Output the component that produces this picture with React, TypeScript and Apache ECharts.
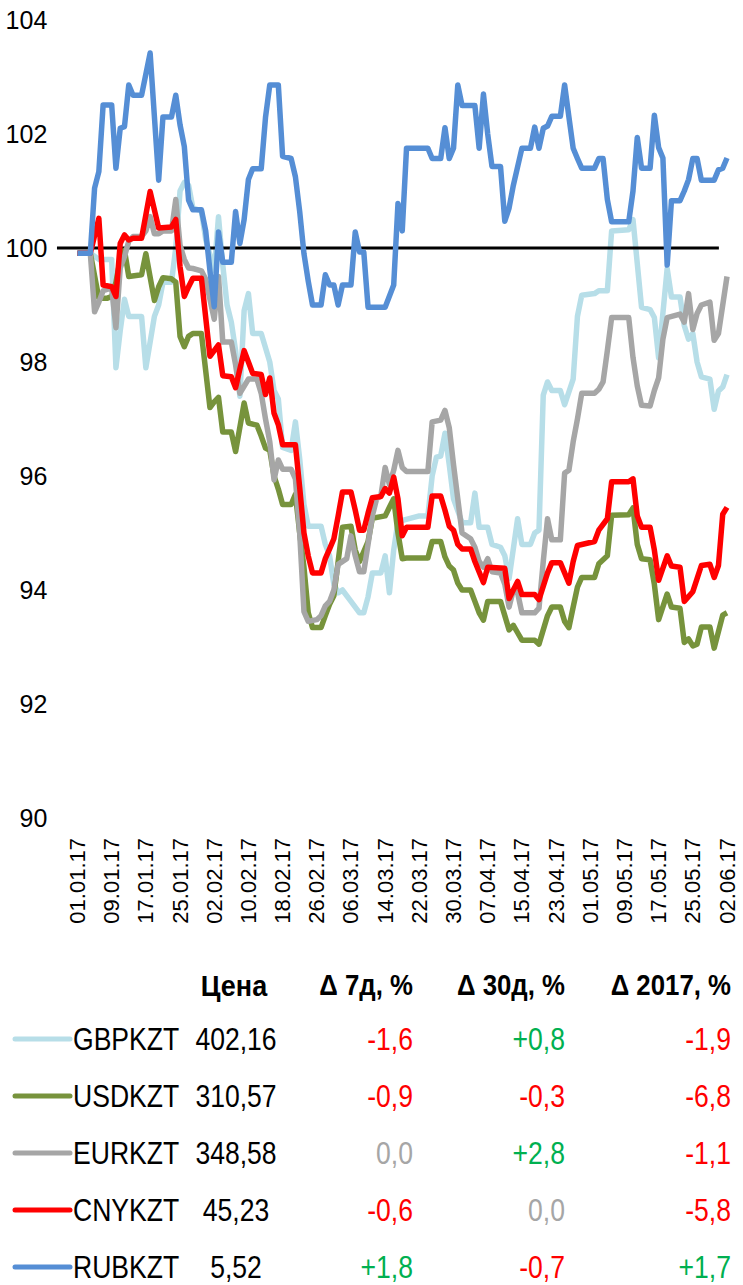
import React, { useEffect, useRef } from "react";
import * as echarts from "echarts";

// x = day index since 01.01.17
const TICK_LABELS = ["01.01.17","09.01.17","17.01.17","25.01.17","02.02.17","10.02.17","18.02.17","26.02.17","06.03.17","14.03.17","22.03.17","30.03.17","07.04.17","15.04.17","23.04.17","01.05.17","09.05.17","17.05.17","25.05.17","02.06.17"];

const BASELINE = 100;
const BASELINE_RANGE = [-4.8, 150.1];

const GBPKZT = [[0,99.91],[3,99.91],[5,99.8],[8,99.8],[9,97.9],[10,98.55],[11,99.1],[12,98.8],[15,98.8],[16,97.9],[18,98.8],[19,99.0],[20,99.4],[22,99.4],[23,100.0],[24,101.0],[25,101.15],[26,101.1],[27,100.7],[29,100.65],[30,100.15],[32,99.6],[33,100.55],[34,99.7],[35,99.0],[36,98.7],[37,98.2],[38,97.4],[39,98.9],[40,99.2],[41,98.5],[43,98.5],[45,98.0],[46,97.5],[47,97.35],[48,96.5],[50,96.45],[51,96.95],[52,96.3],[53,95.5],[54,95.12],[57,95.12],[58,94.8],[59,94.6],[60,94.1],[61,93.95],[62,94.0],[64,93.8],[66,93.6],[67,93.6],[68,93.88],[69,94.3],[71,94.3],[72,94.6],[73,93.95],[74,94.7],[75,95.2],[80,95.3],[82,95.3],[83,96.0],[84,96.33],[85,96.35],[86,96.75],[87,96.2],[88,95.6],[90,95.18],[92,95.18],[93,95.7],[94,95.1],[96,95.1],[97,94.8],[99,94.75],[100,94.6],[101,94.2],[103,95.25],[104,94.8],[106,94.8],[107,95.0],[108,95.05],[109,97.42],[110,97.65],[111,97.5],[113,97.5],[114,97.25],[116,97.7],[117,98.8],[118,99.17],[121,99.2],[122,99.25],[124,99.25],[125,100.3],[129,100.32],[130,100.5],[132,98.96],[134,98.92],[135,98.78],[136,98.07],[138,99.64],[139,99.14],[141,99.14],[142,98.64],[143,98.4],[144,98.5],[145,98.0],[146,97.74],[148,97.7],[149,97.17],[150,97.49],[151,97.56],[152,97.78]];

const USDKZT = [[0,99.91],[3,99.91],[5,99.12],[7,99.12],[8,99.15],[9,99.4],[10,99.8],[11,99.96],[12,99.5],[15,99.53],[16,99.9],[18,99.08],[19,99.32],[20,99.48],[22,99.46],[23,99.4],[24,98.45],[25,98.27],[26,98.45],[27,98.5],[29,98.5],[31,97.2],[32,97.3],[33,97.38],[34,96.77],[36,96.77],[37,96.43],[39,97.28],[40,96.93],[42,96.89],[43,96.7],[44,96.49],[45,96.45],[46,96.0],[47,95.77],[48,95.5],[50,95.5],[51,95.68],[52,95.0],[53,94.4],[54,93.6],[55,93.34],[57,93.34],[58,93.55],[59,93.75],[60,93.9],[61,94.5],[62,95.1],[64,95.12],[65,94.7],[66,94.5],[68,94.85],[69,95.26],[72,95.3],[73,95.45],[74,95.6],[75,95.0],[76,94.55],[77,94.56],[82,94.56],[83,94.85],[85,94.85],[86,94.58],[87,94.42],[88,94.35],[89,94.12],[90,94.0],[92,94.0],[93,93.8],[94,93.6],[95,93.47],[96,93.8],[99,93.8],[100,93.55],[101,93.3],[102,93.38],[103,93.25],[104,93.12],[107,93.12],[108,93.05],[110,93.55],[111,93.7],[113,93.7],[114,93.45],[115,93.34],[116,93.7],[117,94.05],[118,94.22],[121,94.22],[122,94.46],[124,94.6],[125,95.31],[129,95.32],[130,95.44],[131,94.8],[132,94.55],[134,94.53],[135,94.1],[136,93.48],[138,93.93],[139,93.7],[141,93.68],[142,93.08],[143,93.14],[144,93.02],[145,93.05],[146,93.35],[148,93.35],[149,92.98],[151,93.56],[152,93.6]];

const EURKZT = [[0,99.91],[3,99.91],[4,98.88],[5,99.05],[6,99.25],[8,99.3],[9,98.6],[10,99.65],[11,99.85],[12,100.12],[13,100.2],[15,100.2],[16,100.3],[17,100.55],[18,100.25],[19,100.25],[20,100.3],[22,100.3],[23,100.85],[24,100.05],[25,99.8],[26,99.65],[27,99.64],[29,99.6],[30,99.45],[31,99.1],[32,98.75],[33,99.5],[34,98.35],[36,98.35],[37,97.95],[38,97.45],[40,97.7],[42,97.7],[43,97.45],[44,97.0],[45,96.6],[46,95.93],[47,96.28],[48,96.12],[50,96.12],[51,95.95],[52,95.0],[53,93.62],[54,93.45],[56,93.48],[57,93.55],[58,93.72],[59,93.8],[60,94.0],[61,94.45],[63,94.55],[64,94.95],[65,94.6],[66,94.32],[67,94.32],[68,94.8],[69,95.3],[70,95.6],[71,95.65],[72,96.15],[73,95.85],[74,96.1],[75,96.45],[76,96.15],[77,96.08],[82,96.08],[83,96.95],[85,96.98],[86,97.15],[87,96.85],[88,96.2],[89,95.6],[90,95.0],[92,94.9],[93,94.75],[94,94.5],[95,94.4],[96,94.55],[97,94.32],[99,94.3],[100,94.1],[101,93.7],[102,94.0],[103,93.95],[104,93.6],[107,93.6],[108,93.68],[109,94.5],[110,95.25],[111,94.88],[113,94.88],[114,96.05],[115,96.1],[116,96.6],[117,97.0],[118,97.45],[121,97.45],[122,97.52],[123,97.65],[124,98.2],[125,98.78],[129,98.78],[130,98.08],[131,97.58],[132,97.24],[134,97.23],[135,97.5],[136,97.72],[137,98.4],[138,98.78],[141,98.84],[142,98.7],[143,99.2],[144,98.57],[145,98.85],[146,99.0],[148,99.05],[149,98.38],[150,98.5],[152,99.5]];

const CNYKZT = [[0,99.91],[3,99.91],[5,100.52],[6,99.35],[8,99.32],[9,99.15],[10,100.08],[11,100.23],[12,100.14],[13,100.17],[15,100.17],[17,100.99],[19,100.35],[22,100.37],[23,100.5],[24,99.67],[25,99.15],[26,99.32],[27,99.47],[29,99.47],[31,98.1],[32,98.2],[33,98.3],[34,97.76],[36,97.74],[37,97.55],[39,98.2],[40,98.0],[41,97.8],[43,97.78],[44,97.43],[45,97.72],[46,97.1],[47,96.9],[48,96.55],[51,96.55],[52,95.8],[53,95.0],[54,94.6],[55,94.3],[57,94.3],[58,94.55],[59,94.72],[60,94.9],[61,95.3],[62,95.72],[64,95.72],[65,95.4],[66,95.05],[67,95.05],[68,95.35],[69,95.62],[71,95.64],[72,95.78],[73,95.7],[74,95.98],[75,95.6],[76,94.95],[77,95.1],[82,95.1],[83,95.65],[85,95.65],[86,95.4],[87,95.12],[88,95.05],[89,94.8],[90,94.72],[92,94.72],[93,94.5],[95,94.13],[96,94.4],[100,94.38],[101,93.85],[103,94.15],[104,93.92],[107,93.92],[108,93.83],[110,94.3],[111,94.48],[113,94.48],[114,94.3],[115,94.12],[116,94.5],[117,94.78],[121,94.85],[122,95.05],[124,95.25],[125,95.9],[129,95.9],[130,95.95],[131,95.3],[132,95.1],[134,95.1],[135,94.7],[136,94.17],[138,94.6],[139,94.42],[141,94.4],[142,93.8],[144,93.97],[145,94.2],[146,94.43],[148,94.45],[149,94.22],[150,94.43],[151,95.33],[152,95.45]];

const RUBKZT = [[0,99.91],[3,99.91],[4,101.05],[5,101.34],[6,102.51],[8,102.51],[9,101.4],[10,102.1],[11,102.13],[12,102.86],[13,102.68],[15,102.68],[17,103.42],[19,101.19],[20,102.3],[22,102.3],[23,102.68],[24,102.16],[25,101.78],[26,100.84],[27,100.67],[29,100.67],[30,100.3],[31,99.6],[32,98.97],[33,100.28],[34,99.75],[36,99.75],[37,100.64],[38,100.08],[39,100.5],[40,101.2],[41,101.39],[43,101.39],[44,102.29],[45,102.86],[47,102.86],[48,101.61],[50,101.57],[51,101.25],[52,100.64],[53,99.9],[54,99.42],[55,99.0],[57,99.0],[58,99.53],[59,99.35],[60,99.35],[61,99.0],[62,99.35],[64,99.35],[65,100.28],[66,99.93],[67,99.93],[68,98.96],[72,98.96],[74,99.35],[75,100.78],[76,100.3],[77,101.75],[82,101.75],[83,101.57],[85,101.57],[86,102.11],[87,101.57],[88,101.75],[89,102.86],[90,102.5],[93,102.5],[94,101.75],[95,102.7],[96,102.0],[97,101.43],[99,101.43],[100,100.47],[101,100.7],[102,101.1],[104,101.75],[106,101.75],[107,102.12],[108,101.75],[109,102.1],[110,102.14],[111,102.31],[113,102.31],[114,102.86],[115,102.3],[116,101.75],[117,101.57],[118,101.4],[121,101.4],[122,101.57],[123,101.57],[124,100.85],[125,100.46],[129,100.46],[130,101.0],[131,101.94],[132,101.4],[134,101.4],[135,102.33],[136,101.76],[137,101.58],[138,99.7],[139,100.83],[141,100.83],[142,101.0],[143,101.2],[144,101.57],[145,101.57],[146,101.19],[149,101.19],[150,101.37],[151,101.4],[152,101.58]];

const SERIES_NAMES = ["GBPKZT", "USDKZT", "EURKZT", "CNYKZT", "RUBKZT"];
const SERIES_DATA = [GBPKZT, USDKZT, EURKZT, CNYKZT, RUBKZT];
const SERIES_COLORS = ["#B7DEE8", "#77933C", "#A6A6A6", "#FF0000", "#558ED5"];

const TABLE_HEADERS = ["Цена", "Δ 7д, %", "Δ 30д, %", "Δ 2017, %"];
const PRICES = ["402,16", "310,57", "348,58", "45,23", "5,52"];
const DELTA_7D = [-1.6, -0.9, 0.0, -0.6, 1.8];
const DELTA_30D = [0.8, -0.3, 2.8, 0.0, -0.7];
const DELTA_2017 = [-1.9, -6.8, -1.1, -5.8, 1.7];

const FONT = '"Liberation Sans", Arial, sans-serif';

function fmtDelta(v: number): string {
  const s = Math.abs(v).toFixed(1).replace(".", ",");
  if (v > 0) return "+" + s;
  if (v < 0) return "-" + s;
  return s;
}
function deltaColor(v: number): string {
  if (v > 0) return "#00B050";
  if (v < 0) return "#FF0000";
  return "#A6A6A6";
}

// narrow-looking text: regular sans face squeezed horizontally
function txt(text: string, x: number, y: number, align: string, fill: string, size: number, weight = "normal", sx = 0.83) {
  return {
    type: "text",
    x,
    y,
    scaleX: sx,
    scaleY: 1,
    silent: true,
    style: {
      text,
      x: 0,
      y: 0,
      fill,
      fontSize: size,
      fontFamily: FONT,
      fontWeight: weight,
      align,
      verticalAlign: "middle",
      textAlign: align,
      textVerticalAlign: "middle",
    },
  };
}

export default function App() {
  const ref = useRef<HTMLDivElement>(null);
  useEffect(() => {
    document.body.style.margin = "0";
    if (!ref.current) return;
    const chart = echarts.init(ref.current, null, { renderer: "svg" });

    const rowY0 = 1039;
    const rowStep = 57;
    const graphics: any[] = [];
    const headerY = 985;
    graphics.push(txt(TABLE_HEADERS[0], 234, headerY, "center", "#000", 30, "bold", 0.9));
    graphics.push(txt(TABLE_HEADERS[1], 413, headerY, "right", "#000", 30, "bold", 0.86));
    graphics.push(txt(TABLE_HEADERS[2], 565, headerY, "right", "#000", 30, "bold", 0.86));
    graphics.push(txt(TABLE_HEADERS[3], 731, headerY, "right", "#000", 30, "bold", 0.86));
    SERIES_NAMES.forEach((name, i) => {
      const y = rowY0 + i * rowStep;
      graphics.push({
        type: "line",
        silent: true,
        shape: { x1: 15, y1: y, x2: 70, y2: y },
        style: { stroke: SERIES_COLORS[i], lineWidth: 5, lineCap: "round" },
      });
      graphics.push(txt(name, 73, y, "left", "#000", 32));
      graphics.push(txt(PRICES[i], 236, y, "center", "#000", 32));
      graphics.push(txt(fmtDelta(DELTA_7D[i]), 413, y, "right", deltaColor(DELTA_7D[i]), 32));
      graphics.push(txt(fmtDelta(DELTA_30D[i]), 565, y, "right", deltaColor(DELTA_30D[i]), 32));
      graphics.push(txt(fmtDelta(DELTA_2017[i]), 731, y, "right", deltaColor(DELTA_2017[i]), 32));
    });

    const lineSeries: any[] = SERIES_NAMES.map((name, i) => ({
      name,
      type: "line",
      data: SERIES_DATA[i],
      showSymbol: false,
      symbol: "none",
      silent: true,
      lineStyle: { color: SERIES_COLORS[i], width: 5.5, join: "round" },
      itemStyle: { color: SERIES_COLORS[i] },
      emphasis: { disabled: true },
      z: 3 + i,
    }));
    lineSeries.splice(1, 0, {
      name: "base",
      type: "line",
      data: [[BASELINE_RANGE[0], BASELINE], [BASELINE_RANGE[1], BASELINE]],
      showSymbol: false,
      symbol: "none",
      silent: true,
      lineStyle: { color: "#000000", width: 3 },
      emphasis: { disabled: true },
      z: 3,
    });

    chart.setOption({
      animation: false,
      backgroundColor: "#ffffff",
      grid: { left: 43.3, right: 16, top: 20, bottom: 467, containLabel: false },
      xAxis: {
        type: "value",
        min: -8,
        max: 152,
        interval: 8,
        axisLine: { show: false },
        axisTick: { show: false },
        splitLine: { show: false },
        axisLabel: {
          rotate: 90,
          margin: 20,
          fontSize: 22,
          fontFamily: FONT,
          color: "#000",
          showMinLabel: true,
          showMaxLabel: true,
          formatter: (v: number) => (v >= 0 && TICK_LABELS[v / 8] ? TICK_LABELS[v / 8] : ""),
        },
      },
      yAxis: {
        type: "value",
        min: 90,
        max: 104,
        interval: 2,
        axisLine: { show: false },
        axisTick: { show: false },
        splitLine: { show: false },
        axisLabel: {
          margin: -4,
          fontSize: 25,
          fontFamily: FONT,
          color: "#000",
          padding: [8, 0, 0, 0],
        },
      },
      series: lineSeries,
      graphic: graphics,
    });
    return () => chart.dispose();
  }, []);
  return <div ref={ref} style={{ width: 743, height: 1285 }} />;
}
